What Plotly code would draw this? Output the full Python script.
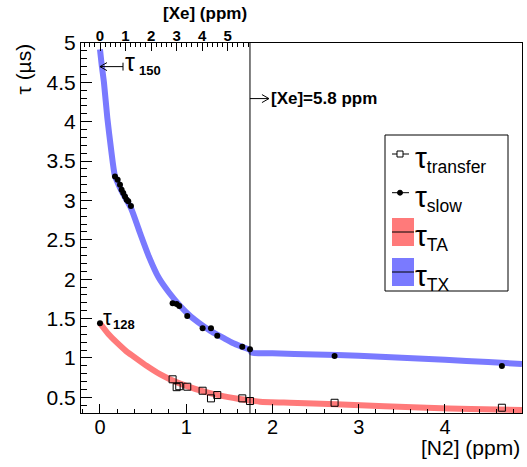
import plotly.graph_objects as go

# ---------------- data ----------------
# tau_slow measurements (filled circles)
slow_n2 = [0.174, 0.205, 0.232, 0.251, 0.270, 0.290, 0.309, 0.328, 0.359,
           0.842, 0.889, 0.919, 1.012, 1.19, 1.287, 1.36, 1.65, 1.739, 2.72, 4.66]
slow_tau = [3.305, 3.263, 3.20, 3.135, 3.094, 3.05, 3.008, 2.99, 2.93,
            1.695, 1.686, 1.66, 1.533, 1.377, 1.377, 1.28, 1.143, 1.11, 1.025, 0.897]

# tau_transfer measurements (open squares)
transfer_n2 = [0.842, 0.889, 0.919, 1.012, 1.19, 1.287, 1.36, 1.65, 1.739, 2.72, 4.66]
transfer_tau = [0.728, 0.628, 0.64, 0.634, 0.583, 0.486, 0.528, 0.486, 0.452, 0.43, 0.367]

# tau_128 point
tau128_n2 = [0.0]
tau128_tau = [1.44]

# tau_TX band (blue)
tx_n2 = [0.0, 0.02, 0.046, 0.085, 0.13, 0.174, 0.25, 0.36, 0.46, 0.57, 0.68, 0.80,
         0.93, 1.05, 1.18, 1.30, 1.42, 1.54, 1.66, 1.739, 1.76, 2.0, 2.5, 3.0,
         3.5, 4.0, 4.5, 4.893]
tx_tau = [4.92, 4.72, 4.50, 4.05, 3.64, 3.31, 3.12, 2.90, 2.60, 2.28, 2.02, 1.83,
          1.66, 1.53, 1.42, 1.33, 1.26, 1.19, 1.135, 1.10, 1.066, 1.058, 1.044, 1.027,
          1.003, 0.976, 0.947, 0.922]

# tau_TA band (red)
ta_n2 = [0.0, 0.1, 0.2, 0.3, 0.4, 0.54, 0.7, 0.81, 1.0, 1.2, 1.4, 1.6, 1.74,
         1.855, 2.2, 2.74, 3.3, 3.79, 4.3, 4.893]
ta_tau = [1.44, 1.30, 1.19, 1.09, 1.01, 0.90, 0.79, 0.73, 0.645, 0.575, 0.52, 0.48,
          0.458, 0.444, 0.43, 0.41, 0.386, 0.366, 0.352, 0.337]

# axes
x_range = [-0.22, 4.893]
y_range = [0.30, 5.0]
xe_range = [-0.744, 5.873]
xe_line_n2 = 1.739          # [Xe] = 5.8 ppm
tau150_tip = (0.0, 4.70)
tau150_tail_n2 = 0.267
xe_arrow_y = 4.294
xe_arrow_tip_n2 = 1.959

# ---------------- geometry helpers (pixels -> paper) ----------------
W, H = 527, 467
L, R, T, B = 81, 522, 43, 413
def px(x):
    return (x - L) / (R - L)
def py(y):
    return (B - y) / (B - T)

FONT = "Liberation Sans, Arial, Helvetica, sans-serif"
BLUE = "rgb(122,122,255)"
RED = "rgb(255,122,122)"

fig = go.Figure()

fig.add_trace(go.Scatter(x=ta_n2, y=ta_tau, mode="lines",
                         line=dict(color=RED, width=6, shape="spline", smoothing=0.6),
                         hoverinfo="skip", showlegend=False))
fig.add_trace(go.Scatter(x=tx_n2, y=tx_tau, mode="lines",
                         line=dict(color=BLUE, width=6, shape="spline", smoothing=0.6),
                         hoverinfo="skip", showlegend=False))
fig.add_trace(go.Scatter(x=transfer_n2, y=transfer_tau, mode="markers",
                         marker=dict(symbol="square-open", size=7, color="black",
                                     line=dict(width=1, color="black")),
                         showlegend=False))
fig.add_trace(go.Scatter(x=slow_n2, y=slow_tau, mode="markers",
                         marker=dict(symbol="circle", size=6, color="black"),
                         showlegend=False))
fig.add_trace(go.Scatter(x=tau128_n2, y=tau128_tau, mode="markers",
                         marker=dict(symbol="circle", size=6, color="black"),
                         showlegend=False))
# invisible trace so the top [Xe] axis is drawn
fig.add_trace(go.Scatter(x=[0], y=[1], xaxis="x2", yaxis="y", mode="markers",
                         marker=dict(opacity=0), hoverinfo="skip", showlegend=False))

axis_common = dict(showgrid=False, zeroline=False, showline=True, linecolor="black",
                   linewidth=1, ticks="inside", tickcolor="black", tickwidth=1)

fig.update_layout(
    width=W, height=H,
    margin=dict(l=L, r=W - R, t=T, b=H - B, autoexpand=False),
    paper_bgcolor="white", plot_bgcolor="rgba(0,0,0,0)",
    font=dict(family=FONT, color="black"),
    showlegend=False,
    xaxis=dict(range=x_range, mirror=True, dtick=1, tick0=0, ticklen=9,
               minor=dict(dtick=0.2, ticklen=4.5, ticks="inside", tickcolor="black"),
               tickfont=dict(size=20), ticklabelstandoff=-4, **axis_common),
    yaxis=dict(range=y_range, mirror=True, dtick=0.5, tick0=0, ticklen=11,
               minor=dict(dtick=0.1, ticklen=6, ticks="inside", tickcolor="black"),
               tickfont=dict(size=21), **axis_common),
    xaxis2=dict(range=xe_range, domain=[0, px(250)], anchor="y", side="top",
                dtick=1, tick0=0, ticklen=8, ticklabelstandoff=-5,
                minor=dict(dtick=0.2, ticklen=4, ticks="inside", tickcolor="black"),
                tickfont=dict(size=15, weight="bold"), **axis_common),
)

# vertical line at [Xe] = 5.8 ppm
fig.add_shape(type="line", xref="x", yref="paper", x0=xe_line_n2, x1=xe_line_n2,
              y0=0, y1=1, line=dict(color="black", width=1))

# tau_150 arrow: shaft, head, tail bar
fig.add_shape(type="line", xref="x", yref="y", x0=tau150_tip[0], x1=tau150_tail_n2,
              y0=tau150_tip[1], y1=tau150_tip[1], line=dict(color="black", width=1))
fig.add_shape(type="path", xref="x", yref="y", xsizemode="pixel", ysizemode="pixel",
              xanchor=tau150_tip[0], yanchor=tau150_tip[1], path="M 7,4 L 0,0 L 7,-4",
              line=dict(color="black", width=1))
fig.add_shape(type="line", xref="x", yref="y", x0=tau150_tail_n2, x1=tau150_tail_n2,
              y0=tau150_tip[1] - 0.05, y1=tau150_tip[1] + 0.05,
              line=dict(color="black", width=1))
# [Xe]=5.8 ppm arrow
fig.add_shape(type="line", xref="x", yref="y", x0=xe_line_n2, x1=xe_arrow_tip_n2,
              y0=xe_arrow_y, y1=xe_arrow_y, line=dict(color="black", width=1))
fig.add_shape(type="path", xref="x", yref="y", xsizemode="pixel", ysizemode="pixel",
              xanchor=xe_arrow_tip_n2, yanchor=xe_arrow_y, path="M -7,4 L 0,0 L -7,-4",
              line=dict(color="black", width=1))

ann = []
# axis titles
ann.append(dict(text="τ (µs)", xref="paper", yref="paper", x=px(23), y=py(42),
                xanchor="center", yanchor="top", textangle=-90, showarrow=False,
                font=dict(size=21)))
ann.append(dict(text="[N2] (ppm)", xref="paper", yref="paper", x=1.0, y=py(448),
                xanchor="right", yanchor="middle", showarrow=False, font=dict(size=21)))
ann.append(dict(text="<b>[Xe] (ppm)</b>", xref="paper", yref="paper", x=px(249), y=py(14),
                xanchor="right", yanchor="middle", showarrow=False, font=dict(size=17)))
ann.append(dict(text="τ", x=tau150_tail_n2, y=tau150_tip[1], xref="x", yref="y",
                xanchor="left", yanchor="middle", xshift=0, yshift=5, showarrow=False,
                font=dict(size=25)))
ann.append(dict(text="<b>150</b>", x=tau150_tail_n2, y=tau150_tip[1], xref="x", yref="y",
                xanchor="left", yanchor="middle", xshift=14, yshift=-4, showarrow=False,
                font=dict(size=13)))
ann.append(dict(text="<b>[Xe]=5.8 ppm</b>", x=xe_arrow_tip_n2, y=xe_arrow_y, xref="x", yref="y",
                xanchor="left", yanchor="middle", xshift=0, showarrow=False,
                font=dict(size=17)))
# tau_128 label
ann.append(dict(text="τ", x=tau128_n2[0], y=tau128_tau[0], xref="x", yref="y",
                xanchor="left", yanchor="middle", xshift=1, yshift=6, showarrow=False,
                font=dict(size=22)))
ann.append(dict(text="<b>128</b>", x=tau128_n2[0], y=tau128_tau[0], xref="x", yref="y",
                xanchor="left", yanchor="middle", xshift=11, yshift=-1, showarrow=False,
                font=dict(size=13)))

# ---------------- manual legend ----------------
fig.add_shape(type="rect", xref="paper", yref="paper", x0=px(385), x1=px(508),
              y0=py(291), y1=py(135), line=dict(color="black", width=1), fillcolor="white")
rows = [154, 192.7, 232, 272]
labels = ["transfer", "slow", "TA", "TX"]
# transfer
fig.add_shape(type="line", xref="paper", yref="paper", x0=px(392), x1=px(409),
              y0=py(rows[0]), y1=py(rows[0]), line=dict(color="black", width=1))
fig.add_shape(type="rect", xref="paper", yref="paper", x0=px(397), x1=px(403),
              y0=py(rows[0] + 3), y1=py(rows[0] - 3), line=dict(color="black", width=1),
              fillcolor="white")
# slow
fig.add_shape(type="line", xref="paper", yref="paper", x0=px(392), x1=px(409),
              y0=py(rows[1]), y1=py(rows[1]), line=dict(color="black", width=1))
fig.add_shape(type="circle", xref="paper", yref="paper", x0=px(397.5), x1=px(402.5),
              y0=py(rows[1] + 2.5), y1=py(rows[1] - 2.5), line=dict(color="black", width=1),
              fillcolor="black")
# TA / TX boxes
for r, col in [(rows[2], RED), (rows[3], BLUE)]:
    fig.add_shape(type="rect", xref="paper", yref="paper", x0=px(392), x1=px(414),
                  y0=py(r + 14), y1=py(r - 14), line=dict(width=0), fillcolor=col)
    fig.add_shape(type="line", xref="paper", yref="paper", x0=px(392), x1=px(414),
                  y0=py(r), y1=py(r), line=dict(color="black", width=1))
for r, lab in zip(rows, labels):
    ann.append(dict(text="<span style='font-size:30px'>τ</span><sub>" + lab + "</sub>",
                    xref="paper", yref="paper", x=px(413), y=py(r + 5),
                    xanchor="left", yanchor="middle", showarrow=False, font=dict(size=25)))

fig.update_layout(annotations=ann)
fig.write_html("out.html", post_script="document.body.style.margin='0';",
               config={"displayModeBar": False})
